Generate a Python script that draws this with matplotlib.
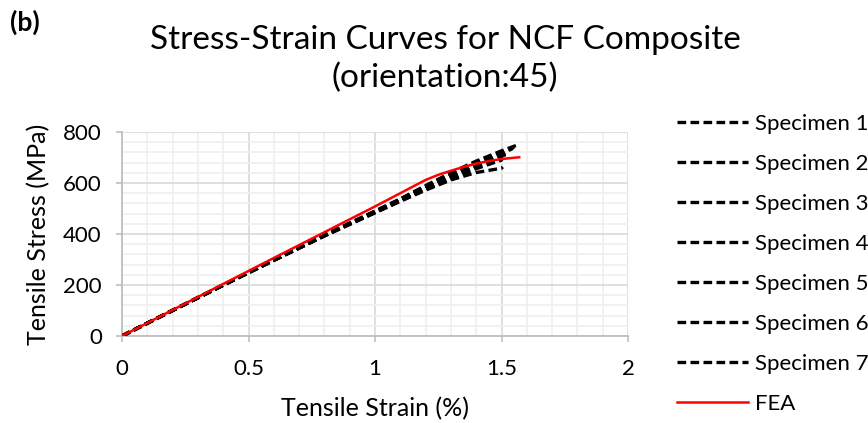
import matplotlib
matplotlib.use("Agg")
import matplotlib.pyplot as plt
from matplotlib.ticker import MultipleLocator

plt.rcParams['font.family'] = ['Lato', 'DejaVu Sans']

# ---- data ----
strain_pts = [0.0, 0.2, 0.4, 0.6, 0.8, 1.0, 1.1, 1.2, 1.3, 1.4, 1.5]
spec1 = [0, 101, 201, 299, 396, 490, 538, 590, 640, 686, 726]
spec1_end = (1.56, 748)
spec2 = [0, 101, 200, 298, 395, 488, 535, 584, 632, 674, 713]
spec2_end = (1.545, 736)
spec3 = [0, 100, 199, 297, 393, 485, 531, 577, 622, 663, 702]
spec3_end = (1.515, 722)
spec4 = [0, 100, 199, 296, 392, 483, 528, 572, 612, 641, 658]
spec4_end = (1.505, 663)
spec5 = [0, 100, 200, 298, 394, 486, 533, 580, 627, 668, 706]
spec5_end = (1.53, 715)
spec6 = [0, 101, 200, 299, 395, 489, 536, 586, 636, 680, 720]
spec6_end = (1.55, 741)
spec7 = [0, 100, 199, 297, 393, 484, 530, 575, 618, 656, 690]
spec7_end = (1.49, 687)

fea_strain = [0.0, 0.2, 0.4, 0.6, 0.8, 1.0, 1.1, 1.2, 1.25, 1.3, 1.35, 1.4, 1.45, 1.5, 1.57]
fea_stress = [0, 102, 204, 306, 407, 508, 560, 612, 632, 648, 663, 676, 686, 694, 701]

specimens = [spec1, spec2, spec3, spec4, spec5, spec6, spec7]
spec_ends = [spec1_end, spec2_end, spec3_end, spec4_end, spec5_end, spec6_end, spec7_end]
labels = ["Specimen 1", "Specimen 2", "Specimen 3", "Specimen 4",
          "Specimen 5", "Specimen 6", "Specimen 7", "FEA"]

xlabel = "Tensile Strain (%)"
ylabel = "Tensile Stress (MPa)"

# ---- figure ----
W, H = 868, 423
fig = plt.figure(figsize=(W / 100, H / 100), dpi=100)
ax = fig.add_axes([122 / W, 1 - 336 / H, (628 - 122) / W, (336 - 132) / H])

ax.set_xlim(0, 2)
ax.set_ylim(0, 800)
ax.xaxis.set_major_locator(MultipleLocator(0.5))
ax.xaxis.set_minor_locator(MultipleLocator(0.1))
ax.yaxis.set_major_locator(MultipleLocator(200))
ax.yaxis.set_minor_locator(MultipleLocator(40))
ax.xaxis.set_major_formatter(plt.FuncFormatter(lambda v, p: f"{v:g}"))

ax.grid(which='major', color='#d9d9d9', linewidth=1.2, zorder=0)
ax.grid(which='minor', color='#efefef', linewidth=1.2, zorder=0)
ax.set_axisbelow(True)
for s in ['top', 'right']:
    ax.spines[s].set_visible(False)
for s in ['left', 'bottom']:
    ax.spines[s].set_color('#bfbfbf')
    ax.spines[s].set_linewidth(1.3)
ax.tick_params(which='major', direction='out', length=4.5, color='#bfbfbf', width=1.2,
               labelsize=16, labelcolor='#000000')
ax.tick_params(axis='x', which='major', pad=12)
ax.tick_params(axis='y', which='major', pad=10)
ax.tick_params(which='minor', length=0)

dash = (0, (2.6, 1.3))
for vals, end, lab in zip(specimens, spec_ends, labels[:7]):
    xs = strain_pts + [end[0]]
    ys = vals + [end[1]]
    ax.plot(xs, ys, color='black', linewidth=2.4, linestyle=dash, label=lab, zorder=3)
ax.plot(fea_strain, fea_stress, color='#ff0000', linewidth=1.8, label="FEA", zorder=4)

ax.set_xlabel(xlabel, fontsize=18, labelpad=13)
ax.set_ylabel(ylabel, fontsize=18, labelpad=9)

fig.text(445 / W, 1 - 40 / H, "Stress-Strain Curves for NCF Composite",
         ha='center', va='center', fontsize=24)
fig.text(445 / W, 1 - 78 / H, "(orientation:45)",
         ha='center', va='center', fontsize=24)
fig.text(10 / W, 1 - 22 / H, "(b)", ha='left', va='center', fontsize=19, fontweight='bold')

handles, labs = ax.get_legend_handles_labels()
leg = fig.legend(handles, labs, loc='upper left', bbox_to_anchor=(668 / W, 1 - 105 / H),
                 frameon=False, fontsize=16, handlelength=3.2, handletextpad=0.3,
                 labelspacing=0.9, borderaxespad=0)

fig.savefig("out.png", dpi=100)
